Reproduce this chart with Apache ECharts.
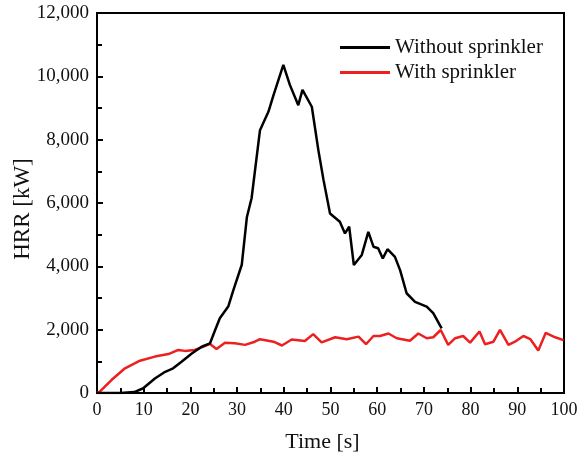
<!DOCTYPE html>
<html>
<head>
<meta charset="utf-8">
<script src="https://cdn.jsdelivr.net/npm/echarts@6/dist/echarts.min.js"></script>
<style>html,body{margin:0;padding:0;background:#fff}#c{width:583px;height:459px}</style>
</head>
<body>
<div id="c"></div>
<script>
// Without sprinkler: time [s] and HRR [kW]
var tNo = [0, 5, 8, 9.9, 12.4, 14.6, 16.3, 18.1, 20.3, 22.4, 24.2, 25.3, 26.3, 28.1, 29.2, 31, 32.1, 33.1, 34.9, 36.7, 37.8, 39.9, 41.3, 43.1, 44.0, 46.0, 47.4, 48.5, 49.9, 52, 53.1, 54, 55, 56.7, 58.1, 59.2, 60.2, 61.2, 62.2, 63.8, 64.9, 66.3, 68.1, 70.6, 72, 73.8];
var hrrNo = [0, 0, 30, 150, 460, 670, 780, 990, 1250, 1460, 1570, 1990, 2360, 2730, 3250, 4050, 5560, 6150, 8300, 8880, 9410, 10360, 9730, 9090, 9570, 9040, 7670, 6730, 5670, 5410, 5040, 5250, 4040, 4360, 5090, 4620, 4570, 4250, 4540, 4300, 3880, 3150, 2880, 2730, 2520, 2040];
// With sprinkler
var tWith = [0, 0.6, 3.1, 6, 9.2, 12.4, 15.3, 17.4, 18.8, 20.9, 22.4, 24.2, 25.6, 27.4, 29.5, 31.7, 33.8, 34.9, 37.8, 39.6, 41.7, 44.5, 46.3, 48.1, 51, 53.5, 56, 57.6, 59.2, 60.6, 62.4, 64.2, 67, 68.8, 70.6, 72, 73.6, 75.2, 76.7, 78.4, 79.9, 81.9, 83.1, 84.9, 86.3, 88.1, 89.5, 91.3, 92.8, 94.5, 96.1, 98.1, 99.9];
var hrrWith = [0, 40, 410, 780, 1020, 1150, 1230, 1360, 1330, 1360, 1440, 1550, 1390, 1590, 1570, 1520, 1620, 1700, 1620, 1500, 1690, 1640, 1860, 1600, 1760, 1700, 1780, 1540, 1800, 1800, 1880, 1730, 1650, 1880, 1730, 1760, 1990, 1520, 1730, 1800, 1590, 1940, 1540, 1620, 1990, 1520, 1620, 1800, 1700, 1340, 1900, 1760, 1670];
var xTicks = [0, 10, 20, 30, 40, 50, 60, 70, 80, 90, 100];
var yTicks = [0, 2000, 4000, 6000, 8000, 10000, 12000];

function pairs(xs, ys) { return xs.map(function (x, i) { return [x, ys[i]]; }); }

var font = '"Liberation Serif", "Times New Roman", serif';
var chart = echarts.init(document.getElementById('c'), null, { renderer: 'canvas' });
chart.setOption({
  animation: false,
  backgroundColor: '#fff',
  grid: { left: 97, right: 19, top: 13, bottom: 66, containLabel: false, outerBoundsMode: 'none',
    show: true, borderColor: '#000', borderWidth: 2, backgroundColor: 'transparent' },
  legend: {
    orient: 'vertical', left: 335, top: 32, itemWidth: 50, itemHeight: 3, itemGap: 4,
    icon: 'rect',
    textStyle: { fontFamily: font, fontSize: 21, color: '#111' },
    data: ['Without sprinkler', 'With sprinkler']
  },
  xAxis: {
    type: 'value', min: xTicks[0], max: xTicks[xTicks.length - 1], interval: 10,
    name: 'Time [s]', nameLocation: 'middle', nameGap: 38, nameMoveOverlap: false,
    nameTextStyle: { fontFamily: font, fontSize: 22, color: '#111', padding: [0, 16, 0, 0] },
    axisLine: { show: true, lineStyle: { color: '#000', width: 2 } },
    axisTick: { show: true, inside: true, length: 6, lineStyle: { color: '#000', width: 2 } },
    minorTick: { show: true, splitNumber: 2, length: 5, lineStyle: { color: '#000', width: 2 } },
    axisLabel: { fontFamily: font, fontSize: 18, color: '#111', margin: 8 },
    splitLine: { show: false }
  },
  yAxis: {
    type: 'value', min: yTicks[0], max: yTicks[yTicks.length - 1], interval: 2000,
    name: 'HRR [kW]', nameLocation: 'middle', nameGap: 63, nameRotate: 90, nameMoveOverlap: false,
    nameTextStyle: { fontFamily: font, fontSize: 23, color: '#111', padding: [0, 12, 0, 0] },
    axisLine: { show: true, lineStyle: { color: '#000', width: 2 } },
    axisTick: { show: true, inside: true, length: 6, lineStyle: { color: '#000', width: 2 } },
    minorTick: { show: true, splitNumber: 2, length: 5, lineStyle: { color: '#000', width: 2 } },
    axisLabel: { fontFamily: font, fontSize: 19, color: '#111', margin: 8,
      formatter: function (v) { return v.toLocaleString('en-US'); } },
    splitLine: { show: false }
  },
  series: [
    { name: 'Without sprinkler', type: 'line', data: pairs(tNo, hrrNo), symbol: 'none',
      lineStyle: { color: '#000', width: 2.5 }, itemStyle: { color: '#000' }, z: 3 },
    { name: 'With sprinkler', type: 'line', data: pairs(tWith, hrrWith), symbol: 'none',
      lineStyle: { color: '#ec2020', width: 2.5 }, itemStyle: { color: '#ec2020' }, z: 2 }
  ]
});
</script>
</body>
</html>
